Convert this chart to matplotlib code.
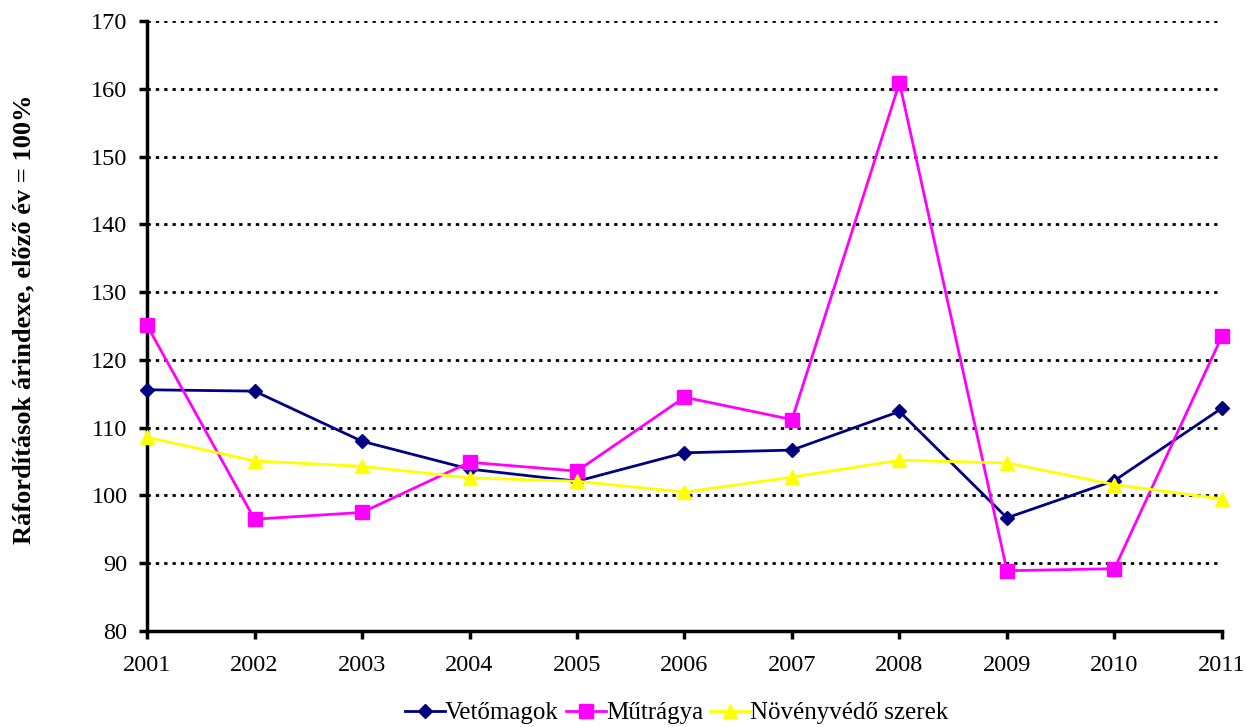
import matplotlib
matplotlib.use("Agg")
import matplotlib.pyplot as plt

years = [2001, 2002, 2003, 2004, 2005, 2006, 2007, 2008, 2009, 2010, 2011]
vetomagok = [115.6, 115.4, 108.0, 103.9, 102.1, 106.3, 106.7, 112.4, 96.7, 102.2, 112.9]
mutragya = [125.1, 96.5, 97.5, 104.9, 103.6, 114.5, 111.2, 160.9, 88.9, 89.2, 123.5]
novenyvedo = [108.6, 105.1, 104.3, 102.6, 102.1, 100.5, 102.7, 105.2, 104.8, 101.6, 99.5]
series_names = ["Vetőmagok", "Műtrágya", "Növényvédő szerek"]
y_ticks = [80, 90, 100, 110, 120, 130, 140, 150, 160, 170]
y_label = "Ráfordítások árindexe, előző év = 100%"

plt.rcParams['font.family'] = ['Liberation Serif', 'DejaVu Serif']

fig = plt.figure(figsize=(12.46, 7.27), dpi=100)
ax = fig.add_axes([0.118, 0.132, 0.8627, 0.839])

ax.plot(years, vetomagok, color='#000080', marker='D', markersize=7, lw=2, label=series_names[0], zorder=3, clip_on=False)
ax.plot(years, mutragya, color='#FF00FF', marker='s', markersize=10, lw=2, label=series_names[1], zorder=3, clip_on=False)
ax.plot(years, novenyvedo, color='#FFFF00', marker='^', markersize=10, lw=2, label=series_names[2], zorder=3, clip_on=False)

ax.set_xlim(years[0], years[-1])
ax.set_ylim(80, 170)
ax.set_yticks(y_ticks)
ax.set_xticks(years)
for t in y_ticks[1:]:
    ax.axhline(t, color='black', lw=2, ls=(0, (1.2, 1.8)), zorder=1)

for s in ['top', 'right']:
    ax.spines[s].set_visible(False)
for s in ['left', 'bottom']:
    ax.spines[s].set_linewidth(2.5)
ax.tick_params(axis='both', direction='out', length=6, width=2.5, labelsize=17.5)
ax.tick_params(axis='x', pad=11)
ax.tick_params(axis='y', pad=8)

ax.set_ylabel(y_label, fontsize=19, fontweight='bold')
ax.yaxis.set_label_coords(-0.104, 0.511)

fig.legend(loc='center', bbox_to_anchor=(0.543, 0.019), ncol=3, frameon=False,
           fontsize=18, handlelength=1.6, handletextpad=0.0, columnspacing=0.3)

fig.savefig("out.png", dpi=100)
